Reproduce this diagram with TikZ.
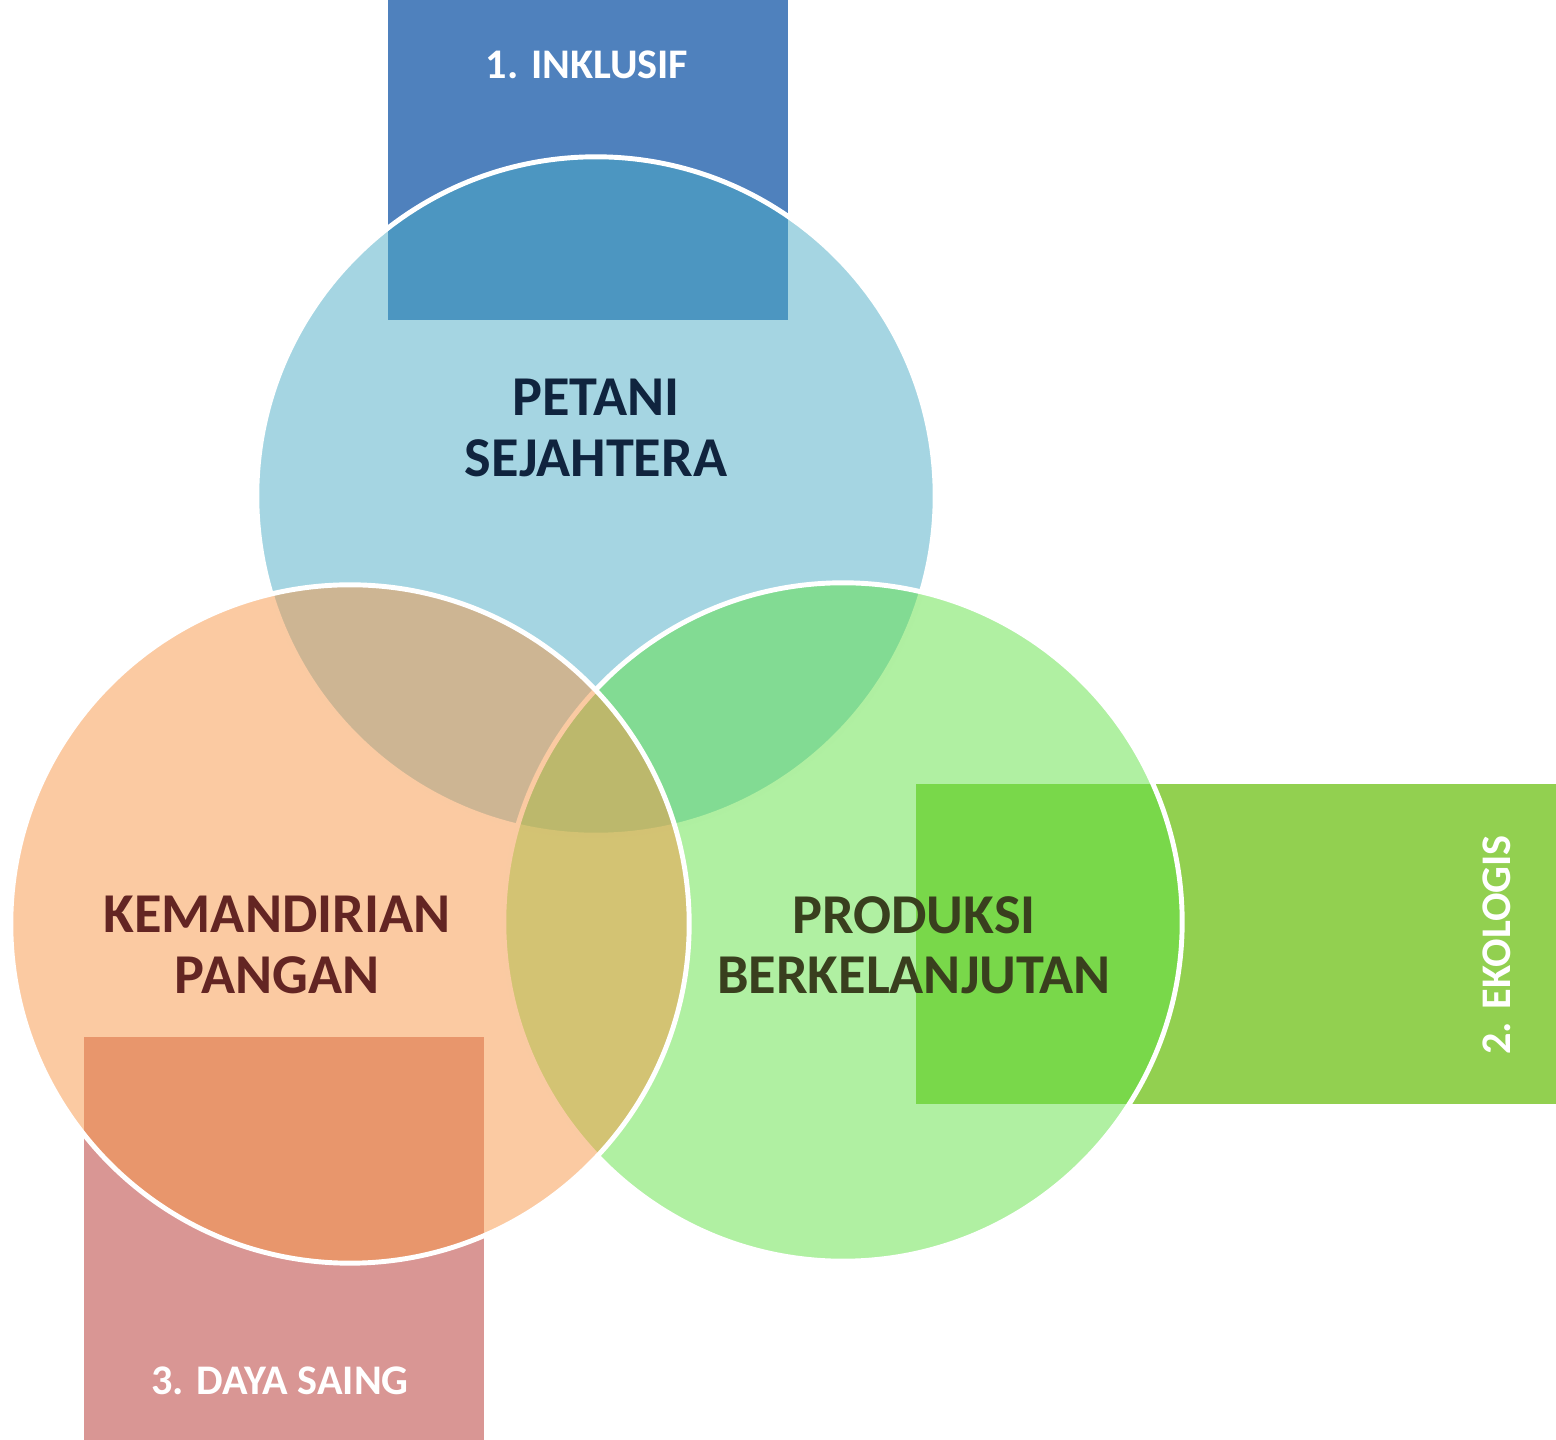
\documentclass[tikz,border=0pt]{standalone}
\usepackage{fontspec}
\setmainfont{Carlito}
\definecolor{tabblue}{HTML}{4F81BD}
\definecolor{tabgreen}{HTML}{92D050}
\definecolor{tabred}{HTML}{D99694}
\definecolor{vennblue}{HTML}{4BACC6}
\definecolor{vennorange}{HTML}{F79646}
\definecolor{venngreen}{HTML}{61E145}
\definecolor{txtblue}{HTML}{10243E}
\definecolor{txtred}{HTML}{632523}
\definecolor{txtgreen}{HTML}{393F1E}
\begin{document}
\begin{tikzpicture}[x=0.01cm,y=-0.01cm,
  venn/.style={circle, draw=white, line width=1.4pt, fill opacity=0.5, draw opacity=1,
    minimum size=6.78cm, inner sep=0pt},
  tab/.style={rectangle, inner sep=0pt, outer sep=0pt, anchor=north west},
  tablabel/.style={text=white, font=\fontsize{12}{14.4}\selectfont\bfseries, inner sep=0pt},
  mainlabel/.style={font=\fontsize{16}{17.1}\selectfont\bfseries, align=center, inner sep=0pt}]
\useasboundingbox (0,0) rectangle (1556,1440);

% coloured tabs behind the circles
\node[tab, fill=tabblue, minimum width=4cm, minimum height=3.2cm] (tabA) at (388,0) {};
\node[tab, fill=tabgreen, minimum width=6.4cm, minimum height=3.2cm] (tabB) at (916,784) {};
\node[tab, fill=tabred, minimum width=4cm, minimum height=4.03cm] (tabC) at (84,1037) {};

% the three translucent circles
\node[venn, fill=vennblue] (cTop) at (596,496) {};
\node[venn, fill=venngreen] (cRight) at (843,922) {};
\node[venn, fill=vennorange] (cLeft) at (350,924) {};

% circle captions
\node[mainlabel, text=txtblue] (lTop) at (596,428) {PETANI\\SEJAHTERA};
\node[mainlabel, text=txtred] (lLeft) at (277,945) {KEMANDIRIAN\\PANGAN};
\node[mainlabel, text=txtgreen] (lRight) at (914,945) {PRODUKSI\\BERKELANJUTAN};

% tab captions
\node[tablabel] (tA) at (587,65) {1. INKLUSIF};
\node[tablabel, rotate=90] (tB) at (1497,945) {2. EKOLOGIS};
\node[tablabel] (tC) at (280,1381) {3. DAYA SAING};
\end{tikzpicture}
\end{document}
